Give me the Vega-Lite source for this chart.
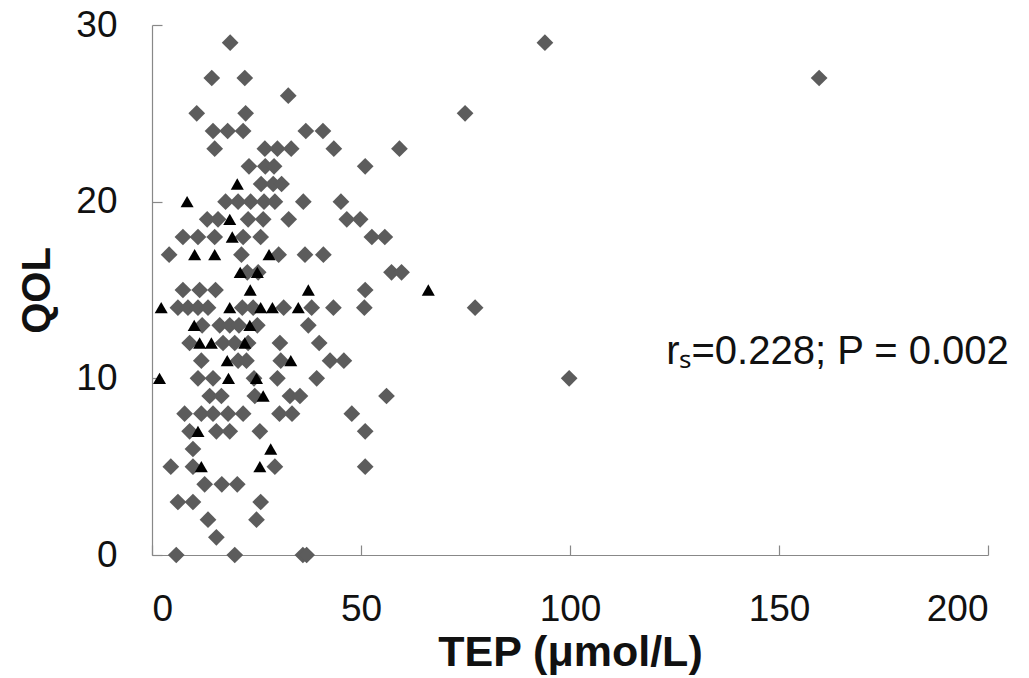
{
  "$schema": "https://vega.github.io/schema/vega-lite/v6.json",
  "width": 836,
  "height": 530,
  "autosize": {"type": "none"},
  "padding": {"left": 152, "top": 25, "right": 41, "bottom": 123},
  "background": "white",
  "config": {
    "view": {"stroke": null},
    "font": "Liberation Sans",
    "axis": {
      "grid": false,
      "domainColor": "#888888",
      "domainWidth": 1.2,
      "tickColor": "#888888",
      "tickWidth": 1.2,
      "tickSize": -10,
      "labelFont": "Liberation Sans",
      "labelFontSize": 37,
      "labelColor": "#111111",
      "titleFont": "Liberation Sans",
      "titleFontSize": 40,
      "titleFontWeight": "bold",
      "titleColor": "#111111"
    }
  },
  "layer": [
    {
      "data": {
        "values": [
          {"tep": 18.7, "qol": 29, "group": "A"}, {"tep": 94.0, "qol": 29, "group": "A"},
          {"tep": 14.3, "qol": 27, "group": "A"}, {"tep": 22.2, "qol": 27, "group": "A"}, {"tep": 159.6, "qol": 27, "group": "A"},
          {"tep": 32.6, "qol": 26, "group": "A"},
          {"tep": 10.7, "qol": 25, "group": "A"}, {"tep": 22.4, "qol": 25, "group": "A"}, {"tep": 74.9, "qol": 25, "group": "A"},
          {"tep": 14.6, "qol": 24, "group": "A"}, {"tep": 18.1, "qol": 24, "group": "A"}, {"tep": 21.8, "qol": 24, "group": "A"}, {"tep": 36.8, "qol": 24, "group": "A"}, {"tep": 40.9, "qol": 24, "group": "A"},
          {"tep": 15.0, "qol": 23, "group": "A"}, {"tep": 27.0, "qol": 23, "group": "A"}, {"tep": 30.0, "qol": 23, "group": "A"}, {"tep": 33.3, "qol": 23, "group": "A"}, {"tep": 43.5, "qol": 23, "group": "A"}, {"tep": 59.2, "qol": 23, "group": "A"},
          {"tep": 23.2, "qol": 22, "group": "A"}, {"tep": 27.1, "qol": 22, "group": "A"}, {"tep": 29.2, "qol": 22, "group": "A"}, {"tep": 51.0, "qol": 22, "group": "A"},
          {"tep": 26.1, "qol": 21, "group": "A"}, {"tep": 29.0, "qol": 21, "group": "A"}, {"tep": 31.0, "qol": 21, "group": "A"},
          {"tep": 17.6, "qol": 20, "group": "A"}, {"tep": 20.6, "qol": 20, "group": "A"}, {"tep": 23.6, "qol": 20, "group": "A"}, {"tep": 26.8, "qol": 20, "group": "A"}, {"tep": 29.4, "qol": 20, "group": "A"}, {"tep": 36.2, "qol": 20, "group": "A"}, {"tep": 45.2, "qol": 20, "group": "A"},
          {"tep": 13.2, "qol": 19, "group": "A"}, {"tep": 15.8, "qol": 19, "group": "A"}, {"tep": 23.0, "qol": 19, "group": "A"}, {"tep": 26.6, "qol": 19, "group": "A"}, {"tep": 32.7, "qol": 19, "group": "A"}, {"tep": 46.6, "qol": 19, "group": "A"}, {"tep": 49.8, "qol": 19, "group": "A"},
          {"tep": 7.4, "qol": 18, "group": "A"}, {"tep": 11.0, "qol": 18, "group": "A"}, {"tep": 15.0, "qol": 18, "group": "A"}, {"tep": 21.8, "qol": 18, "group": "A"}, {"tep": 26.0, "qol": 18, "group": "A"}, {"tep": 52.6, "qol": 18, "group": "A"}, {"tep": 55.7, "qol": 18, "group": "A"},
          {"tep": 4.1, "qol": 17, "group": "A"}, {"tep": 21.4, "qol": 17, "group": "A"}, {"tep": 30.3, "qol": 17, "group": "A"}, {"tep": 36.6, "qol": 17, "group": "A"}, {"tep": 41.0, "qol": 17, "group": "A"},
          {"tep": 22.8, "qol": 16, "group": "A"}, {"tep": 25.4, "qol": 16, "group": "A"}, {"tep": 57.3, "qol": 16, "group": "A"}, {"tep": 59.7, "qol": 16, "group": "A"},
          {"tep": 7.4, "qol": 15, "group": "A"}, {"tep": 11.4, "qol": 15, "group": "A"}, {"tep": 15.2, "qol": 15, "group": "A"}, {"tep": 51.0, "qol": 15, "group": "A"},
          {"tep": 6.2, "qol": 14, "group": "A"}, {"tep": 8.6, "qol": 14, "group": "A"}, {"tep": 11.0, "qol": 14, "group": "A"}, {"tep": 13.4, "qol": 14, "group": "A"}, {"tep": 21.6, "qol": 14, "group": "A"}, {"tep": 24.2, "qol": 14, "group": "A"}, {"tep": 31.5, "qol": 14, "group": "A"}, {"tep": 38.2, "qol": 14, "group": "A"}, {"tep": 43.4, "qol": 14, "group": "A"}, {"tep": 50.8, "qol": 14, "group": "A"}, {"tep": 77.3, "qol": 14, "group": "A"},
          {"tep": 12.0, "qol": 13, "group": "A"}, {"tep": 16.2, "qol": 13, "group": "A"}, {"tep": 18.6, "qol": 13, "group": "A"}, {"tep": 20.8, "qol": 13, "group": "A"}, {"tep": 25.2, "qol": 13, "group": "A"}, {"tep": 37.4, "qol": 13, "group": "A"},
          {"tep": 9.0, "qol": 12, "group": "A"}, {"tep": 17.0, "qol": 12, "group": "A"}, {"tep": 19.8, "qol": 12, "group": "A"}, {"tep": 23.0, "qol": 12, "group": "A"}, {"tep": 30.6, "qol": 12, "group": "A"}, {"tep": 40.0, "qol": 12, "group": "A"},
          {"tep": 11.8, "qol": 11, "group": "A"}, {"tep": 20.6, "qol": 11, "group": "A"}, {"tep": 22.6, "qol": 11, "group": "A"}, {"tep": 30.8, "qol": 11, "group": "A"}, {"tep": 42.6, "qol": 11, "group": "A"}, {"tep": 45.9, "qol": 11, "group": "A"},
          {"tep": 11.0, "qol": 10, "group": "A"}, {"tep": 14.6, "qol": 10, "group": "A"}, {"tep": 24.4, "qol": 10, "group": "A"}, {"tep": 30.0, "qol": 10, "group": "A"}, {"tep": 39.4, "qol": 10, "group": "A"}, {"tep": 99.8, "qol": 10, "group": "A"},
          {"tep": 13.8, "qol": 9, "group": "A"}, {"tep": 16.6, "qol": 9, "group": "A"}, {"tep": 24.6, "qol": 9, "group": "A"}, {"tep": 33.0, "qol": 9, "group": "A"}, {"tep": 35.4, "qol": 9, "group": "A"}, {"tep": 56.1, "qol": 9, "group": "A"},
          {"tep": 7.8, "qol": 8, "group": "A"}, {"tep": 11.8, "qol": 8, "group": "A"}, {"tep": 14.6, "qol": 8, "group": "A"}, {"tep": 18.2, "qol": 8, "group": "A"}, {"tep": 21.8, "qol": 8, "group": "A"}, {"tep": 30.5, "qol": 8, "group": "A"}, {"tep": 33.5, "qol": 8, "group": "A"}, {"tep": 47.8, "qol": 8, "group": "A"},
          {"tep": 9.0, "qol": 7, "group": "A"}, {"tep": 15.4, "qol": 7, "group": "A"}, {"tep": 18.6, "qol": 7, "group": "A"}, {"tep": 25.8, "qol": 7, "group": "A"}, {"tep": 51.0, "qol": 7, "group": "A"},
          {"tep": 9.8, "qol": 6, "group": "A"},
          {"tep": 4.5, "qol": 5, "group": "A"}, {"tep": 9.8, "qol": 5, "group": "A"}, {"tep": 29.4, "qol": 5, "group": "A"}, {"tep": 51.0, "qol": 5, "group": "A"},
          {"tep": 12.6, "qol": 4, "group": "A"}, {"tep": 16.7, "qol": 4, "group": "A"}, {"tep": 20.4, "qol": 4, "group": "A"},
          {"tep": 6.2, "qol": 3, "group": "A"}, {"tep": 9.8, "qol": 3, "group": "A"}, {"tep": 26.0, "qol": 3, "group": "A"},
          {"tep": 13.4, "qol": 2, "group": "A"}, {"tep": 25.0, "qol": 2, "group": "A"},
          {"tep": 15.4, "qol": 1, "group": "A"},
          {"tep": 5.8, "qol": 0, "group": "A"}, {"tep": 19.8, "qol": 0, "group": "A"}, {"tep": 36.1, "qol": 0, "group": "A"}, {"tep": 37.0, "qol": 0, "group": "A"},
          {"tep": 20.4, "qol": 21, "group": "B"},
          {"tep": 8.4, "qol": 20, "group": "B"},
          {"tep": 18.6, "qol": 19, "group": "B"},
          {"tep": 19.2, "qol": 18, "group": "B"},
          {"tep": 10.2, "qol": 17, "group": "B"}, {"tep": 15.0, "qol": 17, "group": "B"}, {"tep": 28.0, "qol": 17, "group": "B"},
          {"tep": 21.1, "qol": 16, "group": "B"}, {"tep": 25.2, "qol": 16, "group": "B"},
          {"tep": 23.5, "qol": 15, "group": "B"}, {"tep": 37.4, "qol": 15, "group": "B"}, {"tep": 66.1, "qol": 15, "group": "B"},
          {"tep": 2.2, "qol": 14, "group": "B"}, {"tep": 18.6, "qol": 14, "group": "B"}, {"tep": 26.0, "qol": 14, "group": "B"}, {"tep": 28.8, "qol": 14, "group": "B"}, {"tep": 35.0, "qol": 14, "group": "B"},
          {"tep": 10.1, "qol": 13, "group": "B"}, {"tep": 23.4, "qol": 13, "group": "B"},
          {"tep": 11.4, "qol": 12, "group": "B"}, {"tep": 14.2, "qol": 12, "group": "B"}, {"tep": 22.2, "qol": 12, "group": "B"},
          {"tep": 18.0, "qol": 11, "group": "B"}, {"tep": 33.2, "qol": 11, "group": "B"},
          {"tep": 1.8, "qol": 10, "group": "B"}, {"tep": 18.3, "qol": 10, "group": "B"}, {"tep": 25.0, "qol": 10, "group": "B"},
          {"tep": 26.6, "qol": 9, "group": "B"},
          {"tep": 11.0, "qol": 7, "group": "B"},
          {"tep": 28.4, "qol": 6, "group": "B"},
          {"tep": 11.8, "qol": 5, "group": "B"}, {"tep": 25.8, "qol": 5, "group": "B"}
        ]
      },
      "mark": {"type": "point", "filled": true, "opacity": 1, "strokeWidth": 0},
      "encoding": {
        "x": {
          "field": "tep", "type": "quantitative",
          "scale": {"domain": [0, 200], "nice": false, "zero": true},
          "axis": {"values": [0, 50, 100, 150, 200], "title": "TEP (μmol/L)", "titleFontSize": 43, "labelPadding": 46, "titlePadding": 4}
        },
        "y": {
          "field": "qol", "type": "quantitative",
          "scale": {"domain": [0, 30], "nice": false},
          "axis": {"values": [0, 10, 20, 30], "title": "QOL", "labelPadding": 45, "titlePadding": 18}
        },
        "shape": {"field": "group", "type": "nominal", "scale": {"domain": ["A", "B"], "range": ["diamond", "triangle-up"]}, "legend": null},
        "color": {"field": "group", "type": "nominal", "scale": {"domain": ["A", "B"], "range": ["#5c5c5c", "#000000"]}, "legend": null},
        "size": {"field": "group", "type": "nominal", "scale": {"domain": ["A", "B"], "range": [280, 170]}, "legend": null}
      }
    },
    {
      "data": {"values": [{"note": "rₛ=0.228; P = 0.002"}]},
      "mark": {"type": "text", "align": "left", "baseline": "middle", "font": "Liberation Sans", "fontSize": 40, "color": "#111111"},
      "encoding": {
        "text": {"field": "note", "type": "nominal"},
        "x": {"datum": 123.0, "type": "quantitative"},
        "y": {"datum": 11.5, "type": "quantitative"}
      }
    }
  ]
}
